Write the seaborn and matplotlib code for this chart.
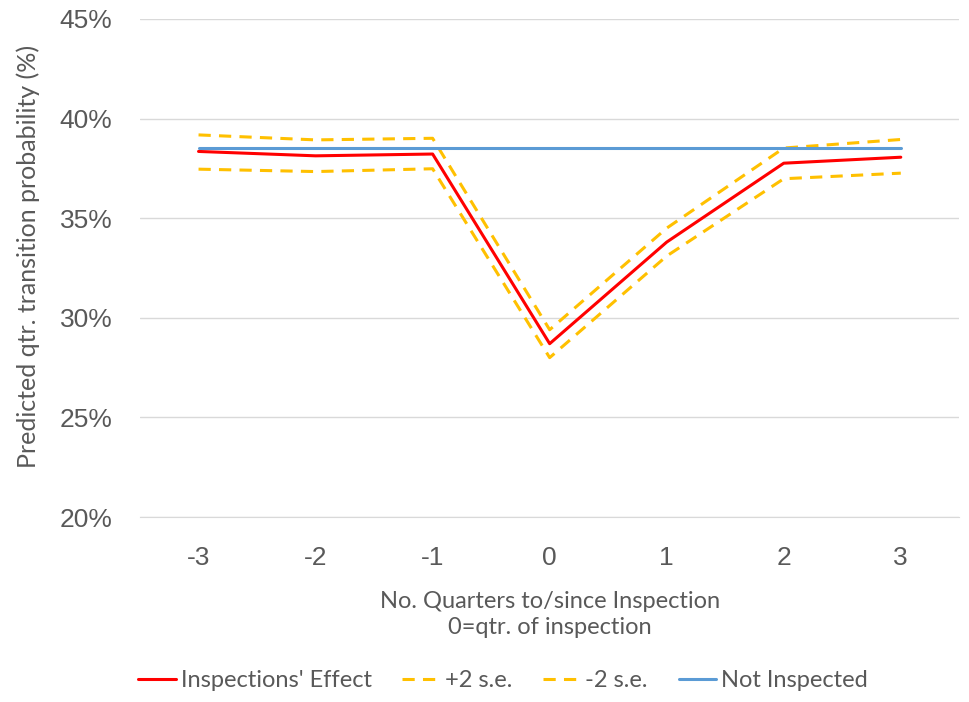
import numpy as np
import pandas as pd
import seaborn as sns
import matplotlib.pyplot as plt
from matplotlib.ticker import PercentFormatter

# --- Data ---
quarters = [-3, -2, -1, 0, 1, 2, 3]
effect = [38.35, 38.13, 38.22, 28.70, 33.80, 37.76, 38.06]
upper = [39.18, 38.93, 39.01, 29.40, 34.50, 38.52, 38.95]
lower = [37.46, 37.34, 37.48, 28.00, 33.10, 36.98, 37.26]
not_inspected = [38.50] * 7

TEXT = "#595959"

sns.set_style("white")
plt.rcParams['font.family'] = ['Lato', 'DejaVu Sans']

fig = plt.figure(figsize=(9.69, 7.02), dpi=100)
ax = fig.add_axes([0.1445, 0.2635, 0.8455, 0.7095])

x = np.arange(len(quarters))
sns.lineplot(x=x, y=effect, ax=ax, color="#FF0000", lw=2.2, label="Inspections' Effect")
sns.lineplot(x=x, y=upper, ax=ax, color="#FFC000", lw=2.2, label="+2 s.e.")
sns.lineplot(x=x, y=lower, ax=ax, color="#FFC000", lw=2.2, label="-2 s.e.")
sns.lineplot(x=x, y=not_inspected, ax=ax, color="#5B9BD5", lw=2.2, label="Not Inspected")
for line in ax.lines[1:3]:
    line.set_dashes([4, 2.7])

ax.set_xlim(-0.5, len(quarters) - 0.5)
ax.set_ylim(20, 45)
ax.set_yticks([20, 25, 30, 35, 40, 45])
ax.yaxis.set_major_formatter(PercentFormatter(decimals=0))
ax.set_xticks(x)
ax.set_xticklabels([str(q) for q in quarters])
ax.grid(axis='y', color="#D9D9D9", lw=1)
ax.set_axisbelow(True)
for s in ['top', 'right', 'left']:
    ax.spines[s].set_visible(False)
ax.spines['bottom'].set_color("#D9D9D9")
ax.tick_params(axis='both', length=0, labelsize=19, colors=TEXT)
ax.tick_params(axis='y', pad=20)
ax.tick_params(axis='x', pad=21)
for lbl in ax.get_yticklabels() + ax.get_xticklabels():
    lbl.set_family(['Liberation Sans', 'DejaVu Sans'])

ax.set_ylabel("Predicted qtr. transition probability (%)", fontsize=18, color=TEXT)
ax.yaxis.set_label_coords(-0.122, 0.524)
ax.set_xlabel("No. Quarters to/since Inspection\n0=qtr. of inspection", fontsize=17,
              color=TEXT, labelpad=15, linespacing=1.3)

handles, labels = ax.get_legend_handles_labels()
ax.get_legend().remove()
fig.legend(handles, labels, loc='center', bbox_to_anchor=(0.519, 0.03), ncol=4, frameon=False,
           fontsize=17, labelcolor=TEXT, handlelength=1.6, columnspacing=1.3, handletextpad=0.2)

fig.savefig("out.png", dpi=100)
